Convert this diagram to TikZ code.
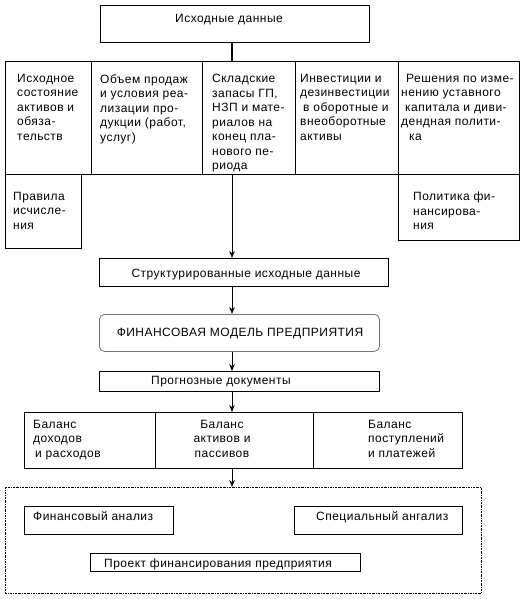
\documentclass[tikz,border=0pt]{standalone}
\usepackage{fontspec}
\setmainfont[LetterSpace=4]{Liberation Sans}
\usetikzlibrary{arrows.meta, positioning}

\begin{document}
\begin{tikzpicture}[
    x=1pt, y=-1pt,
    box/.style={rectangle, draw, anchor=north west, inner sep=0pt, line width=0.8pt},
    lbl/.style={anchor=base, inner sep=0pt, font=\fontsize{12}{14.5}\selectfont},
    para/.style={anchor=north west, align=left, inner sep=0pt, font=\fontsize{12}{14.5}\selectfont,
        execute at begin node={\rule{0pt}{9pt}}},
    arrow/.style={-{Stealth[length=7pt, width=5.5pt]}, line width=0.8pt}
]
    \useasboundingbox (0,0) rectangle (526,599);
    \coordinate (spine) at (232,0);

    % Source data
    \node[box, minimum width=269pt, minimum height=37pt] (src) at (100,5) {};
    \node[lbl] (srcT) at ([shift={(129,18)}]src.north west) {Исходные данные};

    % Input groups
    \node[box, minimum width=86pt, minimum height=113pt] (in1) at (5,61) {};
    \node[box, minimum width=111pt, minimum height=113pt] (in2) at (91,61) {};
    \node[box, minimum width=93pt, minimum height=113pt] (in3) at (202,61) {};
    \node[box, minimum width=103pt, minimum height=113pt] (in4) at (295,61) {};
    \node[box, minimum width=121pt, minimum height=113pt] (in5) at (398,61) {};
    \node[para] (in1T) at ([shift={(12,13)}]in1.north west) {Исходное\\состояние\\активов и\\обяза-\\тельств};
    \node[para] (in2T) at ([shift={(9,13)}]in2.north west) {Объем продаж\\и условия реа-\\лизации про-\\дукции (работ,\\услуг)};
    \node[para] (in3T) at ([shift={(10,13)}]in3.north west) {Складские\\запасы ГП,\\НЗП и мате-\\риалов на\\конец пла-\\нового пе-\\риода};
    \node[para] (in4T) at ([shift={(5,13)}]in4.north west) {Инвестиции и\\дезинвестиции\\\hspace{3pt}в оборотные и\\внеоборотные\\активы};
    \node[para] (in5T) at ([shift={(3,13)}]in5.north west) {\hspace{5pt}Решения по изме-\\нению уставного\\\hspace{4pt}капитала и диви-\\дендная полити-\\\hspace{8pt}ка};

    % Rules and financing policy
    \node[box, minimum width=76pt, minimum height=74pt] (rules) at (5,174) {};
    \node[para] (rulesT) at ([shift={(8,18)}]rules.north west) {Правила\\исчисле-\\ния};
    \node[box, minimum width=121pt, minimum height=66pt] (pol) at (398,174) {};
    \node[para] (polT) at ([shift={(15,18)}]pol.north west) {Политика фи-\\нансирова-\\ния};

    % Model chain
    \node[box, minimum width=289pt, minimum height=28pt] (struct) at (99,258) {};
    \node[lbl] (structT) at ([shift={(147,19)}]struct.north west) {Структурированные исходные данные};
    \node[box, draw=black!55, rounded corners=5pt, minimum width=280pt, minimum height=37pt] (model) at (99,314) {};
    \node[lbl] (modelT) at ([shift={(141,22)}]model.north west) {ФИНАНСОВАЯ МОДЕЛЬ ПРЕДПРИЯТИЯ};
    \node[box, minimum width=280pt, minimum height=20pt] (prog) at (99,371) {};
    \node[lbl, anchor=base west] (progT) at ([shift={(52,13)}]prog.north west) {Прогнозные документы};

    % Balances
    \node[box, minimum width=131pt, minimum height=56pt] (bal1) at (24,412) {};
    \node[box, minimum width=158pt, minimum height=56pt] (bal2) at (155,412) {};
    \node[box, minimum width=149pt, minimum height=56pt] (bal3) at (313,412) {};
    \node[para] (bal1T) at ([shift={(9,8)}]bal1.north west) {Баланс\\доходов\\\hspace{2pt}и расходов};
    \node[para, anchor=north, align=center] (bal2T) at ([shift={(67,8)}]bal2.north west) {Баланс\\активов и\\пассивов};
    \node[para] (bal3T) at ([shift={(55,8)}]bal3.north west) {Баланс\\поступлений\\и платежей};

    % Analysis
    \node[box, line width=0.7pt, dash pattern=on 2pt off 1pt on 0.6pt off 1pt, minimum width=476pt, minimum height=106pt] (frame) at (5,487) {};
    \node[box, minimum width=149pt, minimum height=28pt] (fa) at (24,506) {};
    \node[lbl, anchor=base west] (faT) at ([shift={(9,14)}]fa.north west) {Финансовый анализ};
    \node[box, minimum width=168pt, minimum height=28pt] (sa) at (294,506) {};
    \node[lbl, anchor=base west] (saT) at ([shift={(22,14)}]sa.north west) {Специальный ангализ};
    \node[box, minimum width=270pt, minimum height=18pt] (proj) at (90,553) {};
    \node[lbl, anchor=base west] (projT) at ([shift={(14,14)}]proj.north west) {Проект финансирования предприятия};

    % Connectors
    \draw[line width=1.6pt] (src.south -| spine) -- (in3.north -| spine);
    \draw[arrow] (in3.south -| spine) -- (struct.north -| spine);
    \draw[arrow] (struct.south -| spine) -- (model.north -| spine);
    \draw[arrow] (model.south -| spine) -- (prog.north -| spine);
    \draw[arrow] (prog.south -| spine) -- (bal2.north -| spine);
    \draw[arrow] (bal2.south -| spine) -- (frame.north -| spine);
\end{tikzpicture}
\end{document}
